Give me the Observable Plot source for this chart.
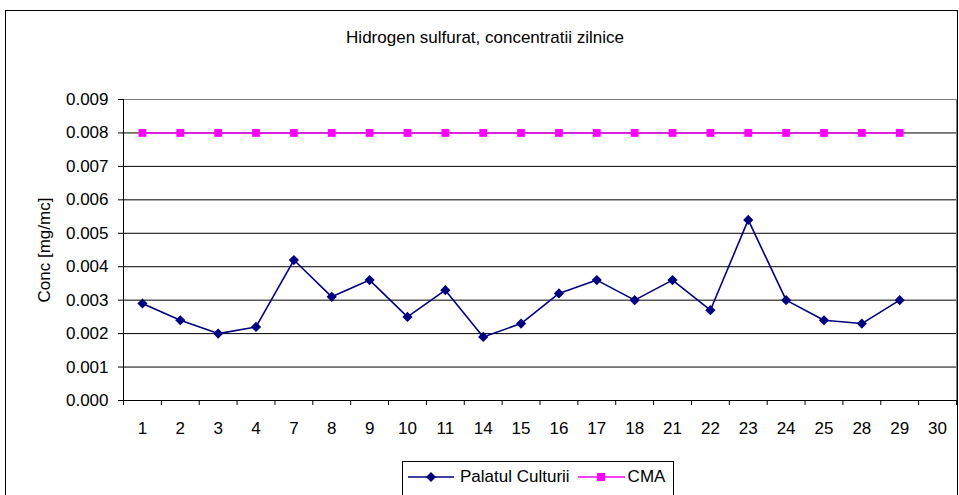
<!DOCTYPE html>
<html>
<head>
<meta charset="utf-8">
<script src="https://cdn.jsdelivr.net/npm/d3@7"></script>
<script src="https://cdn.jsdelivr.net/npm/@observablehq/plot@0.6"></script>
<style>
  html, body { margin: 0; padding: 0; background: #fff; }
  body { width: 959px; height: 495px; overflow: hidden; position: relative; font-family: "Liberation Sans", Arial, sans-serif; }
  #box { position: absolute; left: 5px; top: 10px; width: 951px; height: 500px; border: 1px solid #000; background: #fff; }
  #title { height: 60px; box-sizing: border-box; padding-top: 17px; text-align: center; font-size: 17px; line-height: 20px; color: #000; padding-left: 7px; }
  #chart svg { display: block; }
  #legend { position: absolute; left: 396px; top: 450px; width: 272px; height: 40px; border: 1px solid #000; font-size: 17px; line-height: 20px; color: #000; display: flex; align-items: center; padding-top: 5px; padding-left: 5px; box-sizing: border-box; align-content: flex-start; flex-wrap: nowrap; }
  #legend { align-items: flex-start; }
  .item { display: flex; align-items: center; height: 20px; }
  .item svg { display: block; }
  .item span { white-space: nowrap; }
</style>
</head>
<body>
<div id="box">
  <div id="title">Hidrogen sulfurat, concentratii zilnice</div>
  <div id="chart"></div>
  <div id="legend"></div>
</div>
<script>
const days = ["1","2","3","4","7","8","9","10","11","14","15","16","17","18","21","22","23","24","25","28","29","30"];
const palatulCulturii = [0.0029,0.0024,0.0020,0.0022,0.0042,0.0031,0.0036,0.0025,0.0033,0.0019,0.0023,0.0032,0.0036,0.0030,0.0036,0.0027,0.0054,0.0030,0.0024,0.0023,0.0030,null];
const cma = [0.008,0.008,0.008,0.008,0.008,0.008,0.008,0.008,0.008,0.008,0.008,0.008,0.008,0.008,0.008,0.008,0.008,0.008,0.008,0.008,0.008,null];
const yTicks = [0,0.001,0.002,0.003,0.004,0.005,0.006,0.007,0.008,0.009];
const seriesNames = ["Palatul Culturii", "CMA"];
const seriesColors = ["#000080", "#FF00FF"];

const pc = days.map((d, i) => ({i, day: d, v: palatulCulturii[i]})).filter(d => d.v != null);
const cm = days.map((d, i) => ({i, day: d, v: cma[i]})).filter(d => d.v != null);
const boundaries = d3.range(days.length + 1).map(i => i - 0.5);

const chart = Plot.plot({
  width: 951,
  height: 369,
  marginLeft: 117,
  marginRight: 1,
  marginTop: 28,
  marginBottom: 40,
  style: {fontFamily: "Liberation Sans, Arial, sans-serif", fontSize: "17px", color: "#000", background: "#fff", overflow: "visible"},
  x: {type: "linear", domain: [-0.5, days.length - 0.5]},
  y: {domain: [0, 0.009]},
  marks: [
    Plot.gridY(yTicks, {stroke: "#000", strokeOpacity: 1, strokeWidth: 1}),
    Plot.frame({stroke: "#808080", strokeWidth: 1}),
    Plot.frame({anchor: "left", stroke: "#000"}),
    Plot.frame({anchor: "bottom", stroke: "#000"}),
    Plot.axisY({ticks: yTicks, tickFormat: d3.format(".3f"), tickSize: 5, tickPadding: 10, fontSize: 17,
      label: "Conc [mg/mc]", labelAnchor: "center", labelArrow: "none", labelOffset: 86}),
    Plot.axisX({ticks: boundaries, tickFormat: () => "", tickSize: 5, label: null}),
    Plot.axisX({ticks: d3.range(days.length), tickFormat: i => days[i], tickSize: 0, tickPadding: 21, fontSize: 17, label: null}),
    Plot.line(cm, {x: "i", y: "v", stroke: seriesColors[1], strokeWidth: 1.5}),
    Plot.dot(cm, {x: "i", y: "v", symbol: "square", r: 4.4, fill: seriesColors[1], stroke: "none"}),
    Plot.line(pc, {x: "i", y: "v", stroke: seriesColors[0], strokeWidth: 1.6}),
    Plot.dot(pc, {x: "i", y: "v", symbol: "diamond2", r: 4.6, fill: seriesColors[0], stroke: "none"})
  ]
});
document.getElementById("chart").appendChild(chart);

const legend = document.getElementById("legend");
const symbols = [
  '<path d="M23,5 L28,10 L23,15 L18,10 Z" fill="' + seriesColors[0] + '"/>',
  '<rect x="19" y="6" width="8" height="8" fill="' + seriesColors[1] + '"/>'
];
const sampleW = [46, 47];
const gaps = [[0, 6], [8, 3]];
seriesNames.forEach((name, k) => {
  const it = document.createElement("div");
  it.className = "item";
  it.style.marginLeft = gaps[k][0] + "px";
  it.innerHTML = '<svg width="' + sampleW[k] + '" height="20" style="margin-right:' + gaps[k][1] + 'px"><line x1="0" y1="10" x2="' + sampleW[k] + '" y2="10" stroke="' + seriesColors[k] + '" stroke-width="1.5"/>' + symbols[k] + '</svg><span>' + name + '</span>';
  legend.appendChild(it);
});
</script>
</body>
</html>
